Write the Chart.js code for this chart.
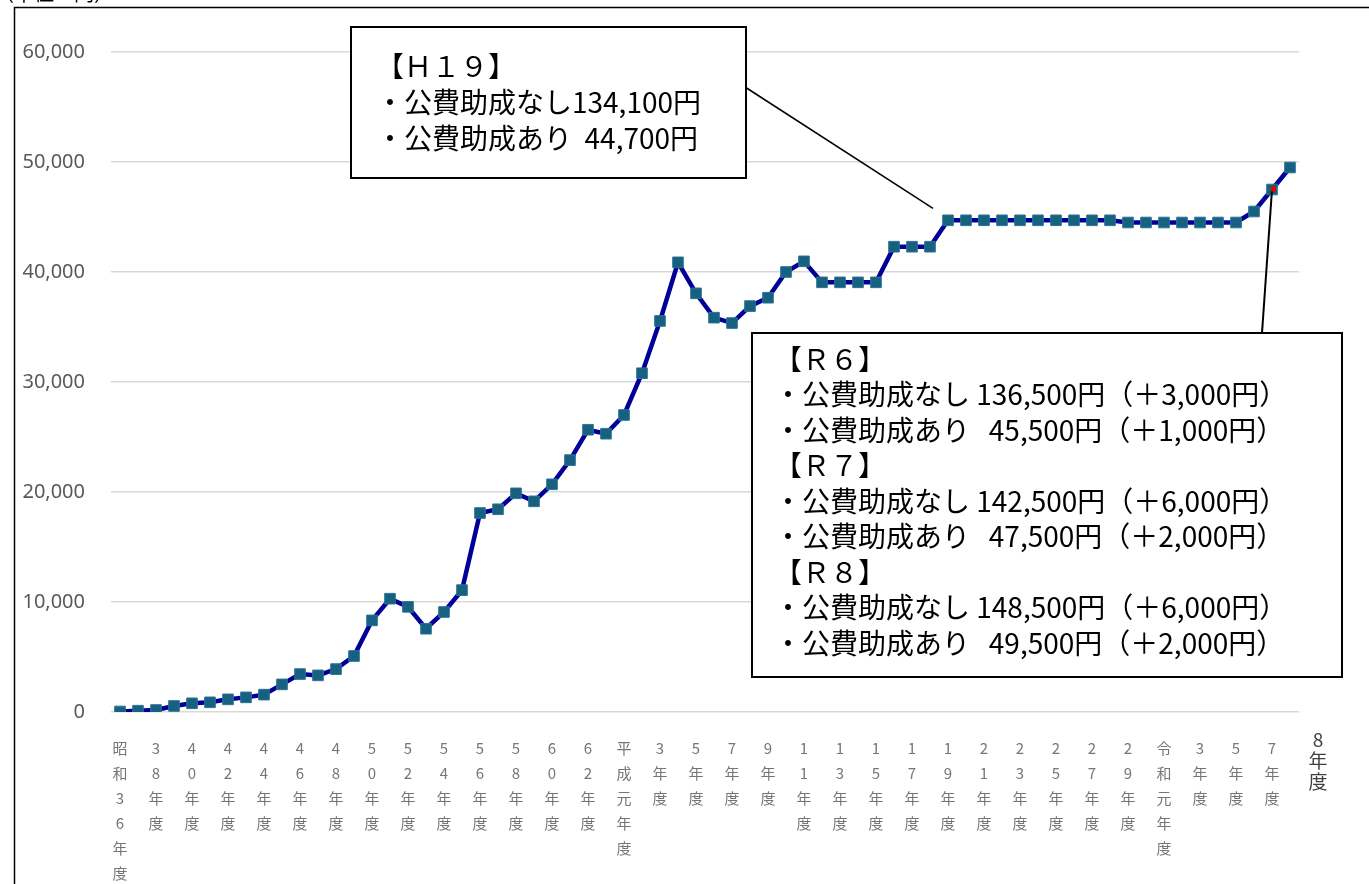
<!doctype html>
<html>
<head>
    <meta charset="utf-8">
    <title>健診費用の推移</title>
    <script src="https://cdn.jsdelivr.net/npm/chart.js@4/dist/chart.umd.min.js"></script>
    <style>
        html, body { margin: 0; padding: 0; background: #fff; }
        #wrap { width: 1369px; height: 884px; }
    </style>
</head>
<body>
<div id="wrap"><canvas id="myChart" width="1369" height="884"></canvas></div>
<script>
// 年度ラベル（昭和36年度〜令和8年度）
var years = [
    '昭和36年度', '37年度', '38年度', '39年度', '40年度', '41年度', '42年度', '43年度', '44年度', '45年度',
    '46年度', '47年度', '48年度', '49年度', '50年度', '51年度', '52年度', '53年度', '54年度', '55年度',
    '56年度', '57年度', '58年度', '59年度', '60年度', '61年度', '62年度', '63年度',
    '平成元年度', '2年度', '3年度', '4年度', '5年度', '6年度', '7年度', '8年度', '9年度', '10年度',
    '11年度', '12年度', '13年度', '14年度', '15年度', '16年度', '17年度', '18年度', '19年度', '20年度',
    '21年度', '22年度', '23年度', '24年度', '25年度', '26年度', '27年度', '28年度', '29年度', '30年度',
    '令和元年度', '2年度', '3年度', '4年度', '5年度', '6年度', '7年度', '8年度'
];
// 公費助成ありの費用（円）
var costs = [
    50, 120, 180, 550, 790, 880, 1150, 1330, 1580, 2510,
    3450, 3330, 3900, 5090, 8330, 10300, 9560, 7570, 9090, 11080,
    18090, 18430, 19880, 19150, 20700, 22900, 25660, 25300,
    27000, 30800, 35550, 40880, 38060, 35850, 35360, 36900, 37660, 40000,
    40970, 39060, 39060, 39060, 39060, 42300, 42300, 42300, 44700, 44700,
    44700, 44700, 44700, 44700, 44700, 44700, 44700, 44700, 44500, 44500,
    44500, 44500, 44500, 44500, 44500, 45500, 47500, 49500
];
var yTicks = [0, 10000, 20000, 30000, 40000, 50000, 60000];

var noteH19 = ['【Ｈ１９】', '・公費助成なし134,100円', '・公費助成あり  44,700円'];
var noteR = [
    '【Ｒ６】',
    '・公費助成なし 136,500円（＋3,000円）',
    '・公費助成あり   45,500円（＋1,000円）',
    '【Ｒ７】',
    '・公費助成なし 142,500円（＋6,000円）',
    '・公費助成あり   47,500円（＋2,000円）',
    '【Ｒ８】',
    '・公費助成なし 148,500円（＋6,000円）',
    '・公費助成あり   49,500円（＋2,000円）'
];

var JP = '"Noto Sans CJK JP", "Noto Sans", sans-serif';

var notes = {
    id: 'notes',
    afterDraw: function(chart) {
        var c = chart.ctx;
        var x = chart.scales.x, y = chart.scales.y;
        c.save();
        // 枠
        c.strokeStyle = '#000';
        c.lineWidth = 1.5;
        c.beginPath();
        c.moveTo(14.5, 884); c.lineTo(14.5, 7.5); c.lineTo(1369, 7.5);
        c.stroke();
        // 単位
        c.fillStyle = '#000';
        c.font = '20px ' + JP;
        c.textBaseline = 'alphabetic';
        c.textAlign = 'left';
        c.fillText('（単位：円）', -6, 1);

        // 8年度（最後のラベル）
        c.fillStyle = '#404040';
        c.font = '19px ' + JP;
        c.textAlign = 'center';
        c.textBaseline = 'middle';
        ['8', '年', '度'].forEach(function(ch, i) { c.fillText(ch, 1318, 740 + i * 21); });

        // H19 吹き出し
        var p46 = { x: x.getPixelForValue(46), y: y.getPixelForValue(costs[46]) };
        c.strokeStyle = '#000';
        c.lineWidth = 1.5;
        c.beginPath(); c.moveTo(745, 87); c.lineTo(p46.x - 15, p46.y - 12); c.stroke();
        c.fillStyle = '#fff';
        c.fillRect(351, 27, 395, 151);
        c.lineWidth = 2;
        c.strokeRect(351, 27, 395, 151);
        c.fillStyle = '#000';
        c.textAlign = 'left';
        c.font = '28px ' + JP;
        noteH19.forEach(function(t, i) { c.fillText(t, 376, 66 + i * 36); });

        // R6-R8 吹き出し
        var p64 = { x: x.getPixelForValue(64), y: y.getPixelForValue(costs[64]) };
        c.lineWidth = 2;
        c.beginPath(); c.moveTo(1262, 333); c.lineTo(p64.x, p64.y); c.stroke();
        c.fillStyle = '#e00';
        c.fillRect(p64.x - 1, p64.y - 3, 5, 5);
        c.fillStyle = '#fff';
        c.fillRect(752, 333, 590, 344);
        c.strokeRect(752, 333, 590, 344);
        c.fillStyle = '#000';
        c.font = '28px ' + JP;
        noteR.forEach(function(t, i) { c.fillText(t, 774, 359 + i * 35.5); });
        c.restore();
    }
};

var ctx = document.getElementById('myChart').getContext('2d');
new Chart(ctx, {
    type: 'line',
    data: {
        labels: years,
        datasets: [{
            data: costs,
            borderColor: '#000099',
            borderWidth: 4.5,
            tension: 0,
            pointStyle: 'rect',
            pointRadius: 7.5,
            pointBackgroundColor: '#17607f',
            pointBorderColor: '#2a7398',
            pointBorderWidth: 1
        }]
    },
    options: {
        responsive: false,
        animation: false,
        layout: { padding: { left: 17, right: 70, top: 52, bottom: 0 } },
        plugins: { legend: { display: false }, tooltip: { enabled: false } },
        scales: {
            x: {
                offset: true,
                grid: { display: false },
                border: { display: false },
                afterFit: function(s) { s.height = 172; },
                ticks: {
                    autoSkip: false,
                    maxRotation: 0,
                    minRotation: 0,
                    padding: 16,
                    color: '#767676',
                    font: { family: JP, size: 15, lineHeight: '25px' },
                    callback: function(v, i) {
                        if (i % 2 !== 0 || i === years.length - 1) return '';
                        return years[i].split('');
                    }
                }
            },
            y: {
                min: 0,
                max: 60000,
                afterFit: function(s) { s.width = 94; },
                afterBuildTicks: function(s) { s.ticks = yTicks.map(function(v) { return { value: v }; }); },
                grid: { color: '#d9d9d9', lineWidth: 1.5, drawTicks: false },
                border: { display: false },
                ticks: {
                    padding: 26,
                    color: '#595959',
                    font: { family: '"Noto Sans", sans-serif', size: 20 },
                    callback: function(v) { return v.toLocaleString('en-US'); }
                }
            }
        }
    },
    plugins: [notes]
});
</script>
</body>
</html>
